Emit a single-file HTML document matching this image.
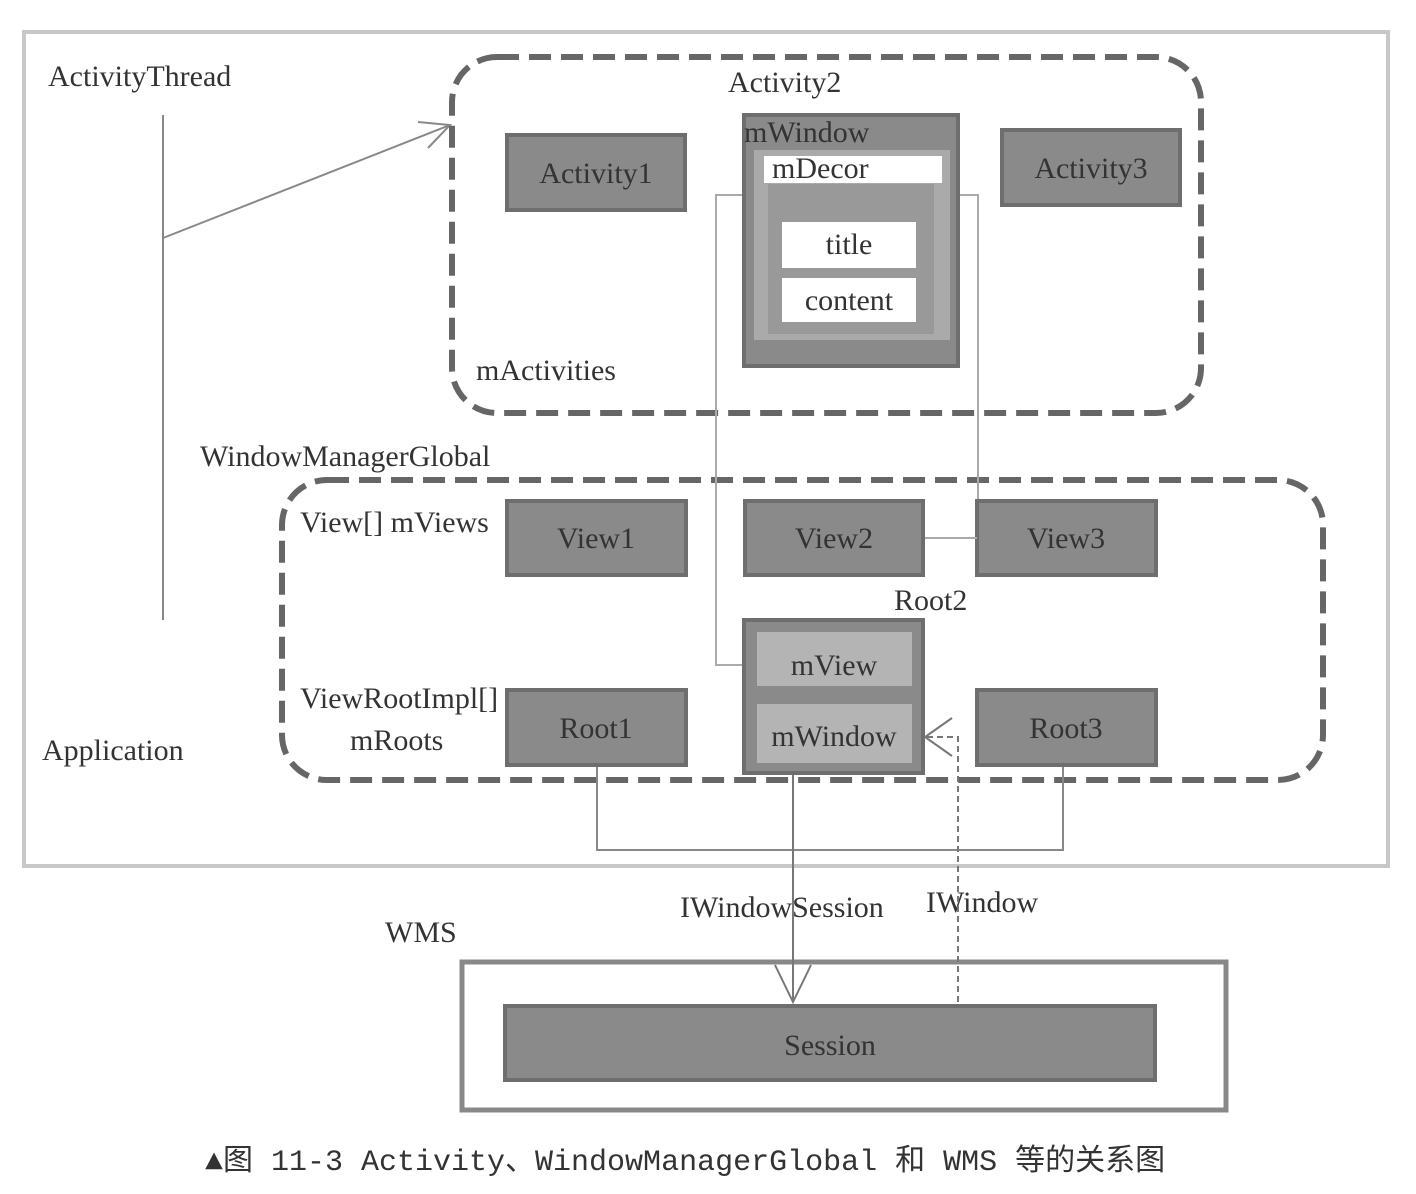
<!DOCTYPE html>
<html><head><meta charset="utf-8"><style>
body{margin:0;background:#fff}
svg text{font-family:"Liberation Serif",serif;fill:#333}
</style></head><body>
<svg width="1416" height="1189" viewBox="0 0 1416 1189" xmlns="http://www.w3.org/2000/svg">
<rect x="0" y="0" width="1416" height="1189" fill="#fff"/>
<rect x="24" y="32" width="1364" height="834" fill="none" stroke="#c8c8c8" stroke-width="4"/>
<g font-size="30">
<text x="48" y="86">ActivityThread</text>
<text x="42" y="760">Application</text>
</g>
<line x1="163" y1="115" x2="163" y2="620" stroke="#888" stroke-width="2"/>
<polyline points="163,238 450,125" stroke="#888" stroke-width="2" fill="none"/>
<polyline points="418,122 450,125 428,148" stroke="#888" stroke-width="2" fill="none"/>
<rect x="452" y="57" width="749" height="356" rx="45" fill="none" stroke="#666" stroke-width="6" stroke-dasharray="22 10"/>
<rect x="282" y="480" width="1041" height="300" rx="45" fill="none" stroke="#666" stroke-width="6" stroke-dasharray="22 10"/>
<g font-size="30">
<text x="728" y="92">Activity2</text>
<text x="476" y="380">mActivities</text>
<text x="200" y="466">WindowManagerGlobal</text>
<text x="300" y="532">View[] mViews</text>
<text x="300" y="708">ViewRootImpl[]</text>
<text x="350" y="750">mRoots</text>
<text x="894" y="610">Root2</text>
<text x="680" y="917">IWindowSession</text>
<text x="926" y="912">IWindow</text>
<text x="385" y="942">WMS</text>
</g>
<!-- connectors -->
<polyline points="745,195 716,195 716,665 757,665" stroke="#aaa" stroke-width="2" fill="none"/>
<polyline points="958,195 978,195 978,538 925,538" stroke="#aaa" stroke-width="2" fill="none"/>
<g fill="#8a8a8a" stroke="#6e6e6e" stroke-width="4">
<rect x="507" y="135" width="178" height="75"/>
<rect x="1002" y="130" width="178" height="75"/>
<rect x="744" y="115" width="214" height="251"/>
<rect x="507" y="501" width="179" height="74"/>
<rect x="745" y="501" width="178" height="74"/>
<rect x="977" y="501" width="179" height="74"/>
<rect x="744" y="620" width="179" height="153"/>
<rect x="507" y="690" width="179" height="75"/>
<rect x="977" y="690" width="179" height="75"/>
</g>
<rect x="754" y="150" width="196" height="190" fill="#aaa"/>
<rect x="764" y="156" width="178" height="27" fill="#fff"/>
<rect x="768" y="184" width="166" height="150" fill="#999"/>
<rect x="782" y="222" width="134" height="46" fill="#fff"/>
<rect x="782" y="278" width="134" height="44" fill="#fff"/>
<rect x="757" y="632" width="155" height="54" fill="#b4b4b4"/>
<rect x="757" y="704" width="155" height="59" fill="#b4b4b4"/>
<line x1="925" y1="538" x2="977" y2="538" stroke="#aaa" stroke-width="2"/>
<g font-size="30">
<text x="744" y="142">mWindow</text>
<text x="772" y="178">mDecor</text>
<text x="849" y="254" text-anchor="middle">title</text>
<text x="849" y="310" text-anchor="middle">content</text>
<text x="596" y="183" text-anchor="middle">Activity1</text>
<text x="1091" y="178" text-anchor="middle">Activity3</text>
<text x="596" y="548" text-anchor="middle">View1</text>
<text x="834" y="548" text-anchor="middle">View2</text>
<text x="1066" y="548" text-anchor="middle">View3</text>
<text x="834" y="675" text-anchor="middle">mView</text>
<text x="834" y="746" text-anchor="middle">mWindow</text>
<text x="596" y="738" text-anchor="middle">Root1</text>
<text x="1066" y="738" text-anchor="middle">Root3</text>
</g>
<polyline points="597,767 597,850 1063,850 1063,767" stroke="#888" stroke-width="2" fill="none"/>
<rect x="462" y="962" width="764" height="148" fill="none" stroke="#888" stroke-width="5"/>
<rect x="505" y="1006" width="650" height="74" fill="#8a8a8a" stroke="#6e6e6e" stroke-width="4"/>
<text x="830" y="1055" font-size="30" text-anchor="middle">Session</text>
<line x1="793" y1="775" x2="793" y2="1002" stroke="#777" stroke-width="2"/>
<polyline points="775,965 793,1002 811,965" stroke="#777" stroke-width="2" fill="none"/>
<polyline points="958,1002 958,737 925,737" stroke="#777" stroke-width="2" fill="none" stroke-dasharray="6 4"/>
<polyline points="952,718 925,737 952,756" stroke="#777" stroke-width="2" fill="none"/>
<text x="205" y="1170" font-size="30" font-family="Liberation Mono, Noto Sans CJK SC, monospace" style="font-family:'Liberation Mono','Noto Sans CJK SC',monospace">▲图 11-3  Activity、WindowManagerGlobal 和 WMS 等的关系图</text>
</svg>
</body></html>
